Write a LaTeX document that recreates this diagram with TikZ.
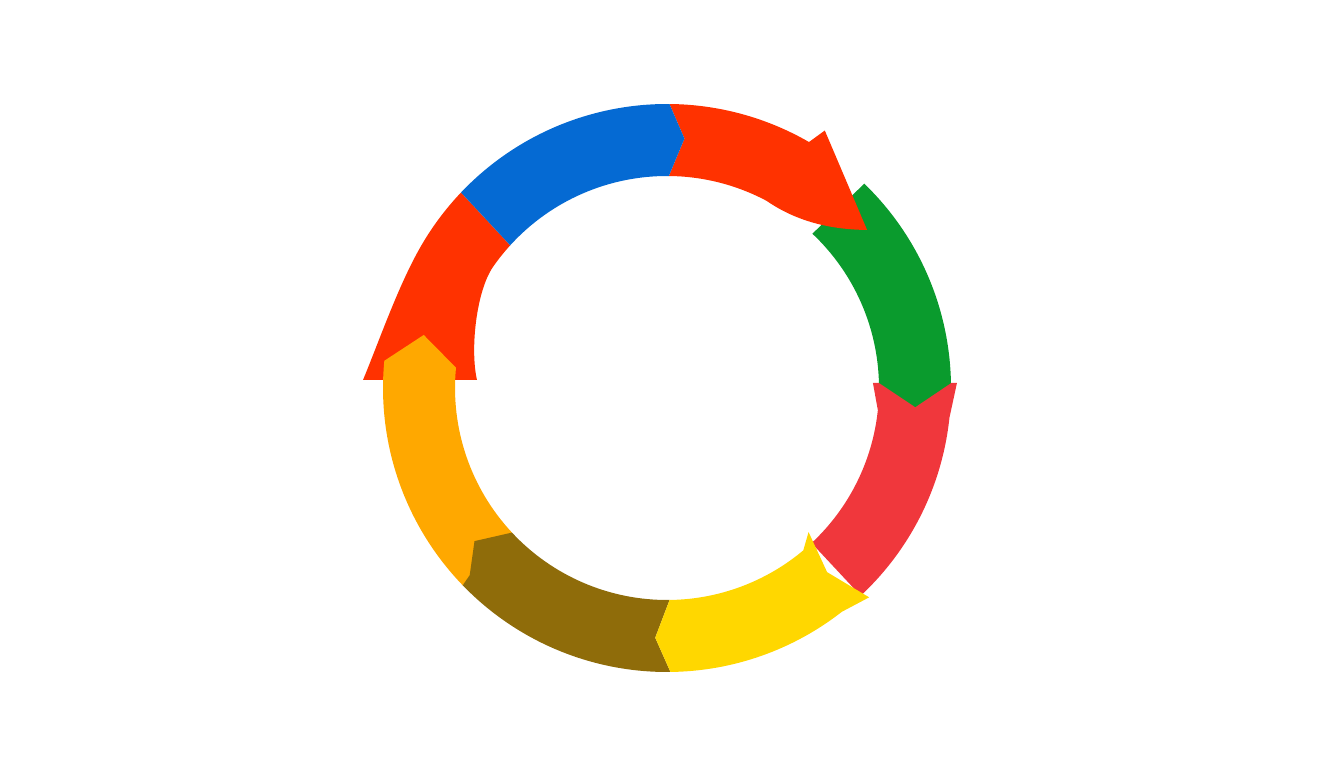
\documentclass[tikz,border=0pt]{standalone}
\definecolor{cblue}{RGB}{5,106,211}
\definecolor{cred}{RGB}{255,50,0}
\definecolor{cgreen}{RGB}{10,155,45}
\definecolor{cpink}{RGB}{240,55,60}
\definecolor{cyellow}{RGB}{255,215,0}
\definecolor{cbrown}{RGB}{143,108,10}
\definecolor{corange}{RGB}{255,168,0}
\def\Ro{284pt}
\def\Ri{212pt}
\begin{document}
\begin{tikzpicture}[x=1pt,y=1pt]
\useasboundingbox (0,0) rectangle (1344,768);
\begin{scope}[shift={(667,380)}]
% red left (flared)
\fill[cred] (136.5:\Ro) arc[start angle=136.5,end angle=150,radius=\Ro]
  .. controls (-268.5,103) and (-286.9,49.4) .. (-304,8)
  -- (-190,8) .. controls (-197,38) and (-190.9,97) .. (145:\Ri)
  arc[start angle=145,end angle=137.7,radius=\Ri] -- cycle;
% orange
\fill[corange] (224:\Ro) arc[start angle=224,end angle=174.5,radius=\Ro]
  -- (167.7:249pt) -- (174.5:\Ri)
  arc[start angle=174.5,end angle=223,radius=\Ri] -- cycle;
% brown
\fill[cbrown] (270.7:\Ro) arc[start angle=270.7,end angle=224,radius=\Ro]
  -- (223.5:272pt) -- (218.5:246pt) -- (223:\Ri)
  arc[start angle=223,end angle=270.7,radius=\Ri] -- (267.3:250pt) -- cycle;
% pink
\fill[cpink] (1:290pt) -- (-6:\Ro) arc[start angle=-6,end angle=-47,radius=\Ro]
  -- (-47:\Ri) arc[start angle=-47,end angle=-6,radius=\Ri] -- (1.4:206pt) -- cycle;
% yellow
\fill[cyellow] (-45.5:202pt) -- (-49:244pt) -- (-46:291pt) -- (-52:\Ro)
  arc[start angle=-52,end angle=-89.3,radius=\Ro]
  -- (-92.7:250pt) -- (-89.3:\Ri)
  arc[start angle=-89.3,end angle=-50,radius=\Ri] -- cycle;
% green
\fill[cgreen] (46:\Ro) arc[start angle=46,end angle=1,radius=\Ro]
  -- (-4.4:249pt) -- (1.4:\Ri)
  arc[start angle=1.4,end angle=46.7,radius=\Ri] -- cycle;
% red top with arrow head
\fill[cred] (89.5:\Ro) arc[start angle=89.5,end angle=60,radius=\Ro]
  -- (58.5:302pt) -- (38.3:255pt)
  .. controls (44:228pt) and (52:211pt) .. (62:\Ri)
  arc[start angle=62,end angle=89.5,radius=\Ri] -- (86:250pt) -- cycle;
% blue
\fill[cblue] (136.5:\Ro) arc[start angle=136.5,end angle=89.5,radius=\Ro]
  -- (86:250pt) -- (89.5:\Ri)
  arc[start angle=89.5,end angle=137.7,radius=\Ri] -- cycle;
\end{scope}
\end{tikzpicture}
\end{document}
